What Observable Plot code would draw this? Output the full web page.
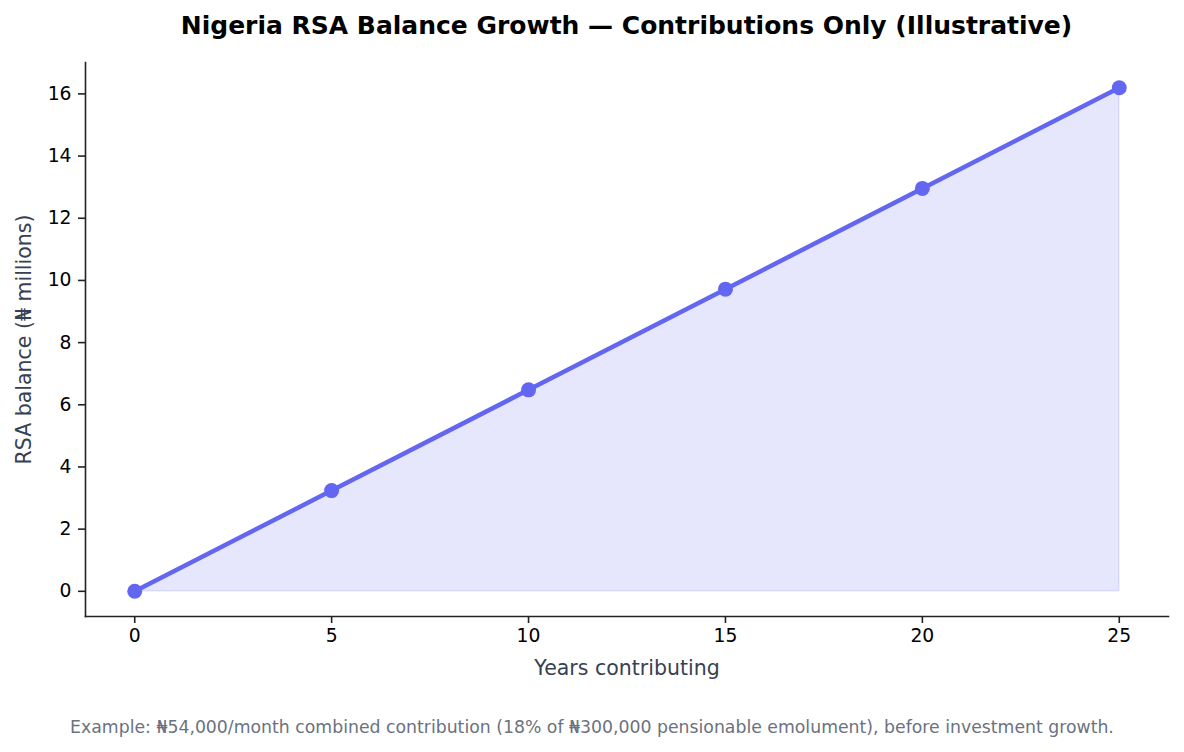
<!DOCTYPE html>
<html>
<head>
<meta charset="utf-8">
<script src="https://cdn.jsdelivr.net/npm/d3@7"></script>
<script src="https://cdn.jsdelivr.net/npm/@observablehq/plot@0.6"></script>
<style>
  html, body { margin: 0; padding: 0; background: #fff; }
  body { width: 1184px; font-family: "DejaVu Sans", sans-serif; }
  #title { box-sizing: border-box; width: 1184px; height: 52px; line-height: 52px; padding-left: 85px; padding-right: 16px;
           text-align: center; font-weight: bold; font-size: 25px; color: #000; white-space: nowrap; }
  #chart svg { display: block; }
  #caption { width: 1184px; height: 70px; line-height: 70px; text-align: center; font-size: 17.3px; color: #6b7280; white-space: nowrap; }
</style>
</head>
<body>
<div id="title">Nigeria RSA Balance Growth — Contributions Only (Illustrative)</div>
<div id="chart"></div>
<div id="caption">Example: ₦54,000/month combined contribution (18% of ₦300,000 pensionable emolument), before investment growth.</div>
<script>
const years = [0, 5, 10, 15, 20, 25];
const balance = [0, 3.24, 6.48, 9.72, 12.96, 16.2];
const xTicks = [0, 5, 10, 15, 20, 25];
const yTicks = [0, 2, 4, 6, 8, 10, 12, 14, 16];
const xLabel = "Years contributing";
const yLabel = "RSA balance (₦ millions)";

const data = years.map((y, i) => ({year: y, value: balance[i]}));
const color = "#6366f1";

const chart = Plot.plot({
  width: 1184,
  height: 640,
  marginTop: 10,
  marginBottom: 76,
  marginLeft: 85,
  marginRight: 16,
  style: {fontFamily: "DejaVu Sans", fontSize: "18.75px", color: "#000", background: "#fff"},
  x: {domain: [-1.25, 26.25], ticks: xTicks},
  y: {domain: [-0.81, 17.01], ticks: yTicks},
  marks: [
    Plot.areaY(data, {x: "year", y: "value", fill: color, fillOpacity: 0.16, stroke: color, strokeOpacity: 0.16, strokeWidth: 1.5}),
    Plot.line(data, {x: "year", y: "value", stroke: color, strokeWidth: 4.5}),
    Plot.dot(data, {x: "year", y: "value", r: 7.5, fill: color, stroke: null}),
    Plot.frame({anchor: "left", stroke: "#222", strokeWidth: 1.6}),
    Plot.frame({anchor: "bottom", stroke: "#222", strokeWidth: 1.6}),
    Plot.axisX({ticks: xTicks, tickSize: 7, tickPadding: 5, stroke: "#222", strokeWidth: 1.6, fill: "#000", label: null, fontSize: 18.75}),
    Plot.axisY({ticks: yTicks, tickSize: 7, tickPadding: 7, stroke: "#222", strokeWidth: 1.6, fill: "#000", label: null, fontSize: 18.75}),
    Plot.text([xLabel], {frameAnchor: "bottom", dy: 52, fontSize: 20.5, fill: "#374151", textAnchor: "middle", lineAnchor: "middle"}),
    Plot.text([yLabel], {frameAnchor: "left", dx: -61, rotate: -90, fontSize: 20.5, fill: "#374151", textAnchor: "middle", lineAnchor: "middle"})
  ]
});
document.getElementById("chart").appendChild(chart);
</script>
</body>
</html>
